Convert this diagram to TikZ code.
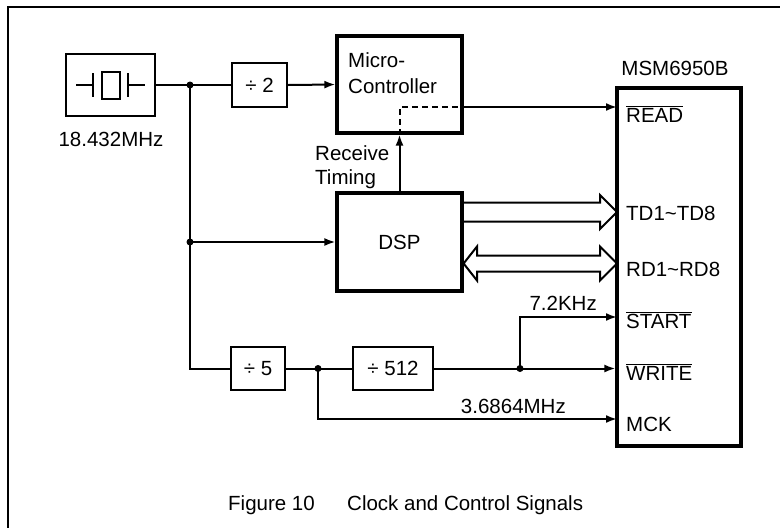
\documentclass[tikz,border=0pt]{standalone}
\usepackage{fontspec}
\setmainfont{Liberation Sans}
\usetikzlibrary{arrows.meta}
\newcommand\ovlsig[1]{$\overline{\hbox{#1}}$}
\begin{document}
\begin{tikzpicture}[x=1pt,y=-1pt,
  txt/.style={font=\fontsize{20.5}{25}\selectfont, inner sep=0pt},
  bigbox/.style={draw, line width=3.2pt, inner sep=0pt, font=\fontsize{20.5}{25}\selectfont},
  smallbox/.style={draw, line width=2.2pt, inner sep=0pt, font=\fontsize{20.5}{25}\selectfont},
  wire/.style={line width=2pt},
  arr/.style={wire, -{Latex[length=11pt,width=8pt]}},
  bus/.style={line width=2pt, line join=miter},
  sym/.style={line width=2.2pt}]
\useasboundingbox (0,0) rectangle (780,528);
% page frame
\draw[line width=2.4pt] (8,528) -- (8,7) -- (780,7);

% crystal
\node[smallbox, minimum width=89pt, minimum height=62pt] (xt) at (110.5,85) {};
\draw[sym] (76,85) -- (93,85) (93,73) -- (93,97) (102,72) rectangle (120,99)
           (128,73) -- (128,97) (128,85) -- (145,85);
\node[txt, anchor=base] (xtl) at (111,146) {18.432MHz};

% blocks
\node[smallbox, minimum width=55pt, minimum height=44pt] (d2) at (259.5,85) {÷ 2};
\node[bigbox, minimum width=125pt, minimum height=97pt] (mc) at (399.5,84.5) {};
\node[txt, anchor=base west] (mct1) at (348,67) {Micro-};
\node[txt, anchor=base west] (mct2) at (348,93) {Controller};
\node[bigbox, minimum width=125pt, minimum height=98pt] (dsp) at (399.5,242) {DSP};
\node[bigbox, minimum width=124pt, minimum height=358pt] (msm) at (679,267) {};
\node[txt, anchor=base] (msml) at (675,75) {MSM6950B};
\node[smallbox, minimum width=54pt, minimum height=43pt] (d5) at (258,368.5) {÷ 5};
\node[smallbox, minimum width=80pt, minimum height=43pt] (d512) at (393,368.5) {÷ 512};

% pin labels
\node[txt, anchor=base west] (lread) at (626,122) {\ovlsig{READ}};
\node[txt, anchor=base west] (ltd) at (626,220) {TD1\textasciitilde TD8};
\node[txt, anchor=base west] (lrd) at (626,276) {RD1\textasciitilde RD8};
\node[txt, anchor=base west] (lstart) at (626,328) {\ovlsig{START}};
\node[txt, anchor=base west] (lwrite) at (626,380) {\ovlsig{WRITE}};
\node[txt, anchor=base west] (lmck) at (626,431) {MCK};

% other labels
\node[txt, anchor=base west] (rt1) at (315,160) {Receive};
\node[txt, anchor=base west] (rt2) at (315,184) {Timing};
\node[txt, anchor=base east] (f72) at (597,310) {7.2KHz};
\node[txt, anchor=base east] (f36) at (566,413) {3.6864MHz};
\node[txt, anchor=base west] (cap1) at (228,510) {Figure 10};
\node[txt, anchor=base west] (cap2) at (347,510) {Clock and Control Signals};

% coordinates
\coordinate (j1) at (190,85);
\coordinate (j2) at (190,242);
\coordinate (j3) at (318,368.5);
\coordinate (j4) at (520,368.5);
\coordinate (pREAD) at (617,107);
\coordinate (pSTART) at (617,317);
\coordinate (pMCK) at (617,419);

% wires
\draw[wire] (xt.east) -- (d2.west);
\draw[arr] (d2.east) -- (mc.west);
\draw[wire] (j1) -- (j1 |- d5.west) -- (d5.west);
\draw[arr] (j2) -- (dsp.west);
\draw[wire] (d5.east) -- (d512.west);
\draw[arr] (d512.east) -- (msm.west |- d512.east);
\draw[arr] (j4) -- (j4 |- pSTART) -- (pSTART);
\draw[arr] (j3) -- (j3 |- pMCK) -- (pMCK);
\draw[arr] (mc.east |- pREAD) -- (pREAD);
\draw[wire, dash pattern=on 6pt off 4pt] (mc.south) -- (mc.center |- pREAD) -- (mc.east |- pREAD);
\draw[arr] (dsp.north) -- (mc.south);

% buses
\draw[bus] (dsp.east |- 0,202.5) -- (600,202.5) -- (600,195) -- (617,212) -- (600,229) -- (600,221.5) -- (dsp.east |- 0,221.5);
\draw[bus] (477,255.5) -- (600,255.5) -- (600,246.5) -- (617,263.5) -- (600,280.5) -- (600,271.5)
           -- (477,271.5) -- (477,280.5) -- (dsp.east |- 0,263.5) -- (477,246.5) -- cycle;

% junction dots
\foreach \j in {j1,j2,j3,j4} \fill (\j) circle (3.5pt);
\end{tikzpicture}
\end{document}
